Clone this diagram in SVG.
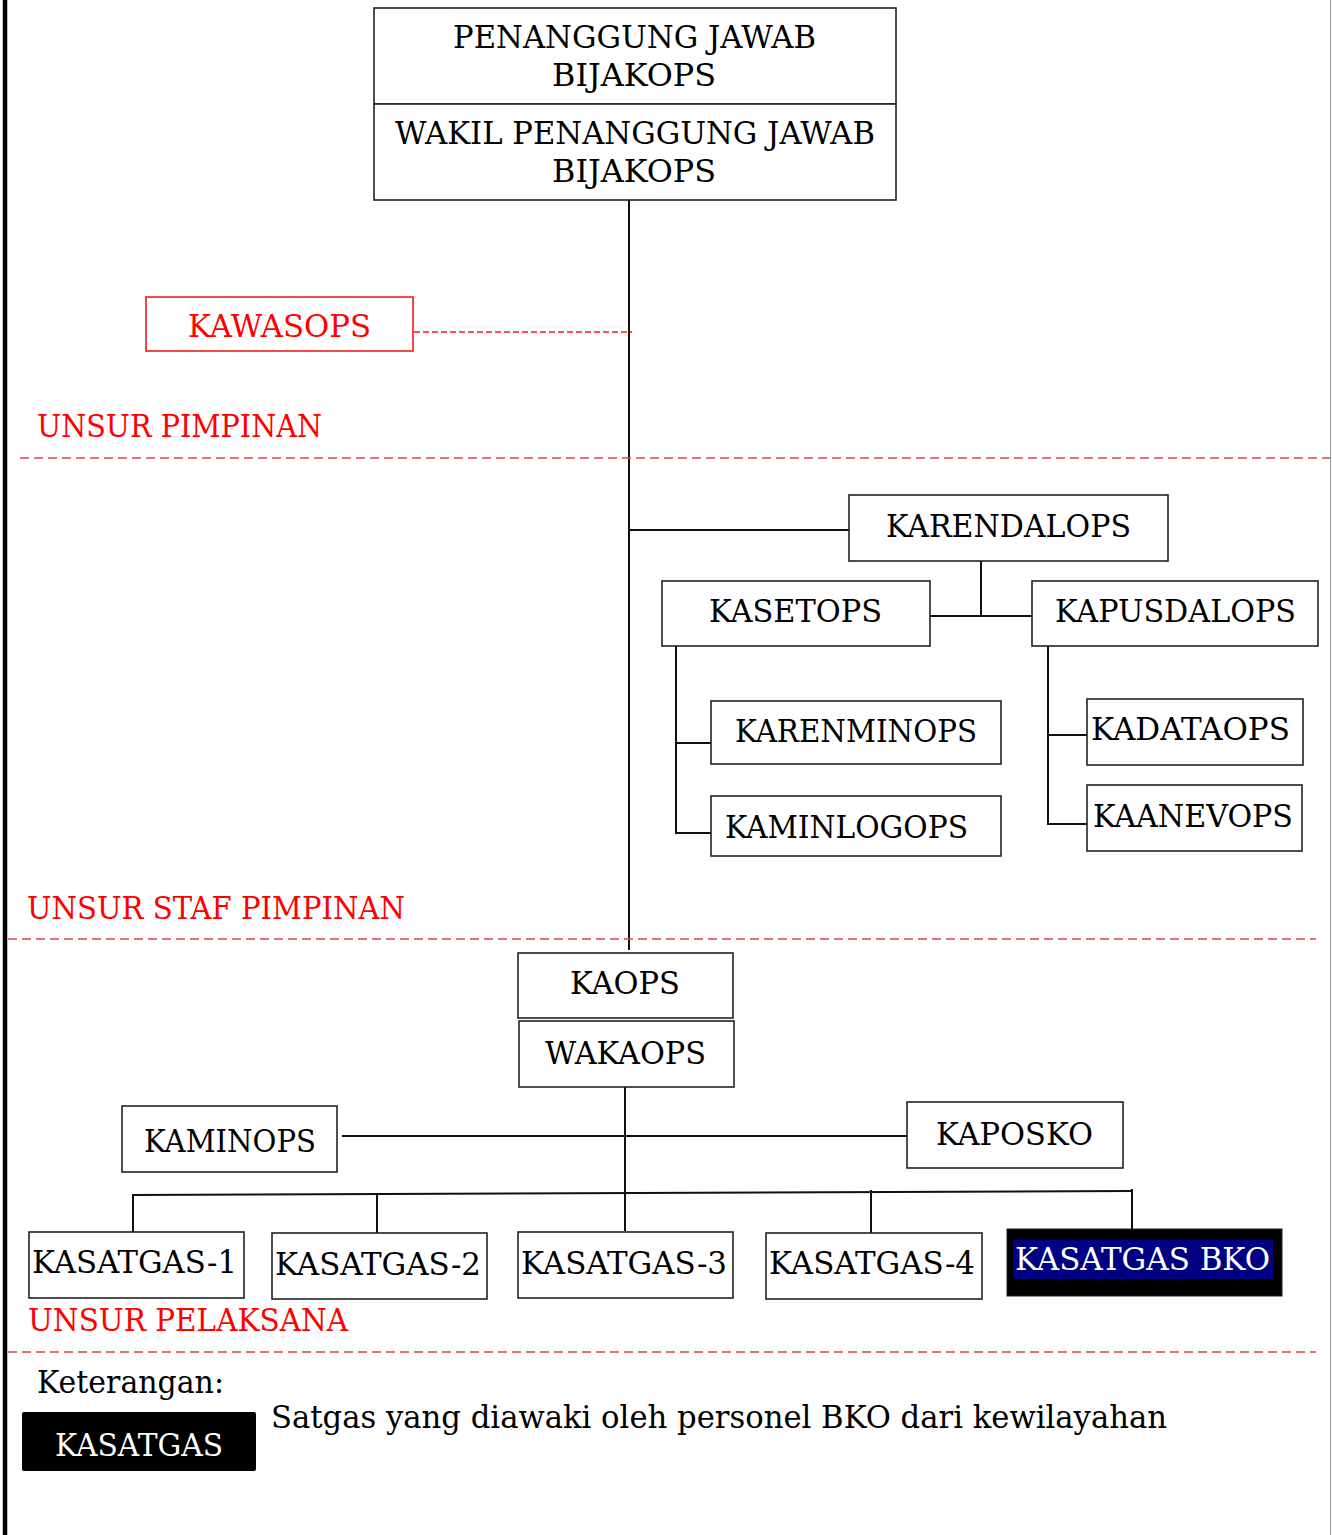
<svg xmlns="http://www.w3.org/2000/svg" width="1332" height="1535" viewBox="0 0 1332 1535">
<style>
.box{fill:#fff;stroke:#222;stroke-width:1.6}
.rbox{fill:#fff;stroke:#ee1c1c;stroke-width:1.6}
.t{font-family:"DejaVu Serif","Liberation Serif",serif;font-size:31px;fill:#000}
.r{fill:#ff0000}
.w{fill:#fff}
.ln{stroke:#111;stroke-width:2;fill:none}
.sep{stroke:#d84848;stroke-width:1.6;stroke-dasharray:9 5;fill:none}
.rd{stroke:#ff1a1a;stroke-width:1.6;stroke-dasharray:6 3;fill:none}
</style>
<rect x="0" y="0" width="1332" height="1535" fill="#fff"/>
<line x1="5" y1="0" x2="5" y2="1535" stroke="#000" stroke-width="4.5"/>
<line x1="1330.5" y1="0" x2="1330.5" y2="1535" stroke="#999" stroke-width="1"/>

<g id="connectors">
<line class="ln" x1="629" y1="200" x2="629" y2="950"/>
<line class="rd" x1="414" y1="332" x2="632" y2="332"/>
<line class="ln" x1="629" y1="530" x2="849" y2="530"/>
<line class="ln" x1="981" y1="561" x2="981" y2="616"/>
<line class="ln" x1="930" y1="616" x2="1032" y2="616"/>
<line class="ln" x1="676" y1="646" x2="676" y2="834"/>
<line class="ln" x1="676" y1="743" x2="713" y2="743"/>
<line class="ln" x1="676" y1="833" x2="711" y2="833"/>
<line class="ln" x1="1048" y1="646" x2="1048" y2="825"/>
<line class="ln" x1="1048" y1="735" x2="1087" y2="735"/>
<line class="ln" x1="1048" y1="824" x2="1087" y2="824"/>
<line class="ln" x1="625" y1="1087" x2="625" y2="1231"/>
<line class="ln" x1="342" y1="1136" x2="907" y2="1136"/>
<line class="ln" x1="132" y1="1195" x2="1133" y2="1191"/>
<line class="ln" x1="133" y1="1195" x2="133" y2="1232"/>
<line class="ln" x1="377" y1="1195" x2="377" y2="1233"/>
<line class="ln" x1="871" y1="1190" x2="871" y2="1233"/>
<line class="ln" x1="1132" y1="1189" x2="1132" y2="1229"/>
</g>

<g id="separators">
<line class="sep" x1="20" y1="458" x2="1330" y2="458"/>
<line class="sep" x1="8" y1="939" x2="1316" y2="939"/>
<line class="sep" x1="8" y1="1352" x2="1316" y2="1352"/>
<text class="t r" x="37" y="437" textLength="285" lengthAdjust="spacingAndGlyphs">UNSUR PIMPINAN</text>
<text class="t r" x="27" y="919" textLength="378" lengthAdjust="spacingAndGlyphs">UNSUR STAF PIMPINAN</text>
<text class="t r" x="28" y="1331" textLength="320" lengthAdjust="spacingAndGlyphs">UNSUR PELAKSANA</text>
</g>

<g id="pj">
<rect class="box" x="374" y="8" width="522" height="96"/>
<text class="t" x="453" y="48" textLength="363" lengthAdjust="spacingAndGlyphs">PENANGGUNG JAWAB</text>
<text class="t" x="552" y="86" textLength="164" lengthAdjust="spacingAndGlyphs">BIJAKOPS</text>
</g>
<g id="wpj">
<rect class="box" x="374" y="104" width="522" height="96"/>
<text class="t" x="395" y="144" textLength="480" lengthAdjust="spacingAndGlyphs">WAKIL PENANGGUNG JAWAB</text>
<text class="t" x="552" y="182" textLength="164" lengthAdjust="spacingAndGlyphs">BIJAKOPS</text>
</g>
<g id="kawasops">
<rect class="rbox" x="146" y="297" width="267" height="54"/>
<text class="t r" x="188" y="337" textLength="183" lengthAdjust="spacingAndGlyphs">KAWASOPS</text>
</g>
<g id="karendalops">
<rect class="box" x="849" y="495" width="319" height="66"/>
<text class="t" x="886" y="537" textLength="245" lengthAdjust="spacingAndGlyphs">KARENDALOPS</text>
</g>
<g id="kasetops">
<rect class="box" x="662" y="581" width="268" height="65"/>
<text class="t" x="709" y="622" textLength="173" lengthAdjust="spacingAndGlyphs">KASETOPS</text>
</g>
<g id="kapusdalops">
<rect class="box" x="1032" y="581" width="286" height="65"/>
<text class="t" x="1055" y="622" textLength="241" lengthAdjust="spacingAndGlyphs">KAPUSDALOPS</text>
</g>
<g id="karenminops">
<rect class="box" x="711" y="701" width="290" height="63"/>
<text class="t" x="735" y="742" textLength="242" lengthAdjust="spacingAndGlyphs">KARENMINOPS</text>
</g>
<g id="kaminlogops">
<rect class="box" x="711" y="796" width="290" height="60"/>
<text class="t" x="725" y="838" textLength="243" lengthAdjust="spacingAndGlyphs">KAMINLOGOPS</text>
</g>
<g id="kadataops">
<rect class="box" x="1087" y="699" width="216" height="66"/>
<text class="t" x="1091" y="740" textLength="199" lengthAdjust="spacingAndGlyphs">KADATAOPS</text>
</g>
<g id="kaanevops">
<rect class="box" x="1087" y="785" width="215" height="66"/>
<text class="t" x="1093" y="827" textLength="200" lengthAdjust="spacingAndGlyphs">KAANEVOPS</text>
</g>
<g id="kaops">
<rect class="box" x="518" y="953" width="215" height="65"/>
<text class="t" x="570" y="994" textLength="110" lengthAdjust="spacingAndGlyphs">KAOPS</text>
</g>
<g id="wakaops">
<rect class="box" x="519" y="1021" width="215" height="66"/>
<text class="t" x="545" y="1064" textLength="161" lengthAdjust="spacingAndGlyphs">WAKAOPS</text>
</g>
<g id="kaminops">
<rect class="box" x="122" y="1106" width="215" height="66"/>
<text class="t" x="144" y="1152" textLength="172" lengthAdjust="spacingAndGlyphs">KAMINOPS</text>
</g>
<g id="kaposko">
<rect class="box" x="907" y="1102" width="216" height="66"/>
<text class="t" x="936" y="1145" textLength="157" lengthAdjust="spacingAndGlyphs">KAPOSKO</text>
</g>
<g id="kasatgas1">
<rect class="box" x="29" y="1232" width="215" height="66"/>
<text class="t" x="32" y="1273" textLength="205" lengthAdjust="spacingAndGlyphs">KASATGAS-1</text>
</g>
<g id="kasatgas2">
<rect class="box" x="272" y="1233" width="215" height="66"/>
<text class="t" x="275" y="1275" textLength="206" lengthAdjust="spacingAndGlyphs">KASATGAS-2</text>
</g>
<g id="kasatgas3">
<rect class="box" x="518" y="1232" width="215" height="66"/>
<text class="t" x="521" y="1274" textLength="206" lengthAdjust="spacingAndGlyphs">KASATGAS-3</text>
</g>
<g id="kasatgas4">
<rect class="box" x="766" y="1233" width="216" height="66"/>
<text class="t" x="769" y="1274" textLength="206" lengthAdjust="spacingAndGlyphs">KASATGAS-4</text>
</g>
<g id="kasatgasbko">
<rect x="1007" y="1229" width="275" height="67" fill="#000" stroke="#222" stroke-width="1"/>
<rect x="1013" y="1240" width="260" height="39" fill="#000080"/>
<text class="t w" x="1015" y="1270" textLength="255" lengthAdjust="spacingAndGlyphs">KASATGAS BKO</text>
</g>
<g id="legend">
<text class="t" x="37" y="1393" textLength="187" lengthAdjust="spacingAndGlyphs">Keterangan:</text>
<rect x="22" y="1412" width="234" height="59" rx="2" fill="#000"/>
<text class="t w" x="55" y="1456" textLength="168" lengthAdjust="spacingAndGlyphs">KASATGAS</text>
<text class="t" x="271" y="1428" textLength="896" lengthAdjust="spacingAndGlyphs">Satgas yang diawaki oleh personel BKO dari kewilayahan</text>
</g>
</svg>
